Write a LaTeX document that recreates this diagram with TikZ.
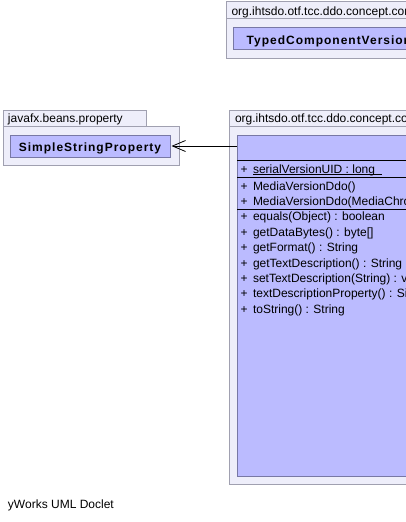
\documentclass[tikz,border=0pt]{standalone}
\usepackage{fontspec}
\setmainfont{Liberation Sans}
\usetikzlibrary{arrows.meta}
\definecolor{pkgfill}{RGB}{238,238,250}
\definecolor{pkgdraw}{RGB}{160,160,176}
\definecolor{clsfill}{RGB}{187,187,255}
\definecolor{clsdraw}{RGB}{120,120,165}
\tikzset{
  pkgbox/.style={draw=pkgdraw, fill=pkgfill, line width=0.8pt},
  clsbox/.style={draw=clsdraw, fill=clsfill, line width=0.8pt, anchor=north west, inner sep=0pt, outer sep=0pt},
  txt/.style={anchor=base west, inner sep=0pt, outer sep=0pt, font=\fontsize{12}{14}\selectfont},
  clsname/.style={anchor=base west, inner sep=0pt, outer sep=0pt, font=\fontsize{12}{14}\selectfont\bfseries\addfontfeature{LetterSpace=8.3}},
  sepline/.style={draw=black, line width=0.9pt},
  dep/.style={draw=black, line width=0.8pt, -{Straight Barb[length=13pt,width=11pt,line width=0.8pt]}}
}
\begin{document}
\begin{tikzpicture}[x=1pt,y=-1pt]
\useasboundingbox (0,0) rectangle (406,522);
\clip (0,0) rectangle (406,522);
% top package
\path[pkgbox] (226,1) rectangle (420,18);
\path[pkgbox] (226,18) rectangle (420,58.5);
\node[txt] (ptop) at (231.5,15.7) {org.ihtsdo.otf.tcc.ddo.concept.component};
\node[clsbox, minimum width=190pt, minimum height=22pt] (tcv) at (233,27.5) {};
\node[clsname] (tcvname) at (246.7,44.8) {TypedComponentVersion};
% javafx package
\path[pkgbox] (3,110) rectangle (146,126);
\path[pkgbox] (3,126) rectangle (179,165);
\node[txt] (pfx) at (8,122) {javafx.beans.property};
\node[clsbox, minimum width=160pt, minimum height=22pt] (ssp) at (10,135) {};
\node[clsname, anchor=base] (sspname) at (90,151) {SimpleStringProperty};
% main package
\path[pkgbox] (229,110) rectangle (420,126);
\path[pkgbox] (229,126) rectangle (420,484);
\node[txt] (pmain) at (235,122) {org.ihtsdo.otf.tcc.ddo.concept.component.refex};
\node[clsbox, minimum width=190pt, minimum height=341pt] (mvd) at (237,135) {};
\draw[sepline] (mvd.west |- 0,160) -- (420,160);
\draw[sepline] (mvd.west |- 0,177.5) -- (420,177.5);
\draw[sepline] (mvd.west |- 0,209) -- (420,209);
% members
\node[txt] (p0) at (240.5,173.5) {+};
\node[txt] (m0) at (253,173.5) {serialVersionUID : long};
\draw[black, line width=0.8pt] ([yshift=-1.2pt]m0.base west) -- ([yshift=-1.2pt,xshift=6.5pt]m0.base east);
\node[txt] (p1) at (240.5,190) {+};
\node[txt] (m1) at (253,190) {MediaVersionDdo()};
\node[txt] (p2) at (240.5,205.4) {+};
\node[txt] (m2) at (253,205.4) {MediaVersionDdo(MediaChronicleDdo, MediaVersion)};
\node[txt] (p3) at (240.5,220.8) {+};
\node[txt] (m3) at (253,220.8) {equals(Object) : boolean};
\node[txt] (p4) at (240.5,236.2) {+};
\node[txt] (m4) at (253,236.2) {getDataBytes() : byte[]};
\node[txt] (p5) at (240.5,251.6) {+};
\node[txt] (m5) at (253,251.6) {getFormat() : String};
\node[txt] (p6) at (240.5,267.1) {+};
\node[txt] (m6) at (253,267.1) {getTextDescription() : String};
\node[txt] (p7) at (240.5,282.5) {+};
\node[txt] (m7) at (253,282.5) {setTextDescription(String) : void};
\node[txt] (p8) at (240.5,297.9) {+};
\node[txt] (m8) at (253,297.9) {textDescriptionProperty() : SimpleStringProperty};
\node[txt] (p9) at (240.5,313.3) {+};
\node[txt] (m9) at (253,313.3) {toString() : String};
% dependency
\draw[dep, shorten >=1.5pt] (mvd.west |- ssp.east) -- (ssp.east);
% footer
\node[txt] (foot) at (8,508.5) {yWorks UML Doclet};
\end{tikzpicture}
\end{document}
